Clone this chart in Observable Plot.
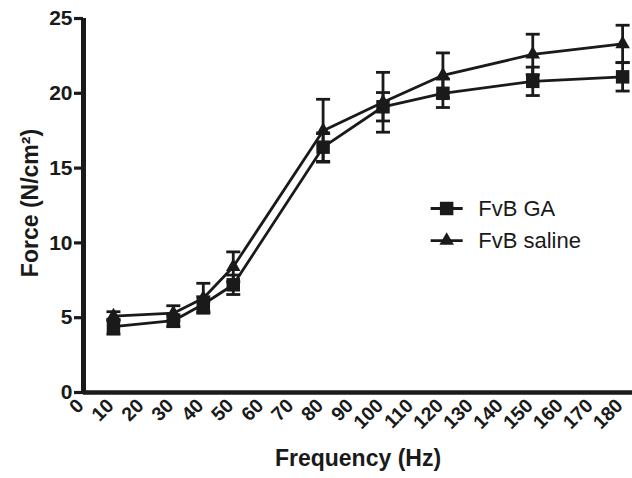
<!DOCTYPE html>
<html>
<head>
<meta charset="utf-8">
<script src="https://cdn.jsdelivr.net/npm/d3@7"></script>
<script src="https://cdn.jsdelivr.net/npm/@observablehq/plot@0.6"></script>
<style>
  html, body { margin: 0; padding: 0; background: #fff; }
  svg { font-family: "Liberation Sans", Arial, sans-serif; }
</style>
</head>
<body>
<div id="chart"></div>
<script>
const frequencies = [10, 30, 40, 50, 80, 100, 120, 150, 180];
const gaMean   = [4.4, 4.8, 5.9, 7.2, 16.4, 19.1, 20.0, 20.8, 21.1];
const gaErr    = [0.5, 0.4, 0.5, 0.65, 0.95, 0.95, 0.95, 0.95, 0.95];
const salMean  = [5.1, 5.3, 6.3, 8.4, 17.5, 19.4, 21.2, 22.6, 23.3];
const salErr   = [0.3, 0.5, 1.0, 1.0, 2.1, 2.0, 1.5, 1.35, 1.25];
const seriesNames = ["FvB GA", "FvB saline"];
const xTicks = d3.range(0, 181, 10);
const yTicks = [0, 5, 10, 15, 20, 25];
// legend placement in data units
const legendX = [115.9, 126.6];
const legendLabelX = 131.8;
const legendY = [12.3, 10.15];

const ink = "#1a1a1a";
const data = [];
frequencies.forEach((f, i) => {
  data.push({series: seriesNames[0], f, m: gaMean[i], e: gaErr[i]});
  data.push({series: seriesNames[1], f, m: salMean[i], e: salErr[i]});
});
const caps = data.flatMap(d => [{...d, v: d.m - d.e}, {...d, v: d.m + d.e}]);
const legend = seriesNames.map((s, i) => ({series: s, x1: legendX[0], x2: legendX[1], xm: (legendX[0] + legendX[1]) / 2, y: legendY[i], lx: legendLabelX}));

const capSymbol = {
  draw(ctx, size) { const r = 7; ctx.moveTo(-r, 0); ctx.lineTo(r, 0); }
};
const isGA = d => d.series === seriesNames[0];

const chart = Plot.plot({
  width: 632,
  height: 478,
  marginLeft: 83,
  marginRight: 0,
  marginTop: 18,
  marginBottom: 86,
  style: {fontFamily: "'Liberation Sans', Arial, sans-serif", color: ink, background: "white"},
  x: {domain: [0, 183.3]},
  y: {domain: [0, 25]},
  marks: [
    Plot.axisY({ticks: yTicks, tickSize: 9, tickPadding: 2, strokeWidth: 3.2, fontSize: 21, fontWeight: "bold", label: null, stroke: ink, fill: ink}),
    Plot.axisX({ticks: xTicks, tickSize: 0, tickPadding: 10, tickRotate: -45, dx: -3, fontSize: 19.5, fontWeight: "bold", label: null, fill: ink}),
    Plot.ruleX([0], {y1: 0, y2: 25, stroke: ink, strokeWidth: 5}),
    Plot.ruleY([0], {stroke: ink, strokeWidth: 4.5}),
    Plot.line(data, {x: "f", y: "m", z: "series", stroke: ink, strokeWidth: 2.8}),
    Plot.ruleX(data, {x: "f", y1: d => d.m - d.e, y2: d => d.m + d.e, stroke: ink, strokeWidth: 2.8}),
    Plot.dot(caps, {x: "f", y: "v", symbol: () => capSymbol, stroke: ink, strokeWidth: 2.8, r: 5}),
    Plot.dot(data.filter(isGA), {x: "f", y: "m", symbol: "square", fill: ink, r: 7.6}),
    Plot.dot(data.filter(d => !isGA(d)), {x: "f", y: "m", symbol: "triangle", fill: ink, r: 5.4}),
    // legend
    Plot.link(legend, {x1: "x1", x2: "x2", y1: "y", y2: "y", stroke: ink, strokeWidth: 2.8}),
    Plot.dot(legend.filter(isGA), {x: "xm", y: "y", symbol: "square", fill: ink, r: 7.6}),
    Plot.dot(legend.filter(d => !isGA(d)), {x: "xm", y: "y", symbol: "triangle", fill: ink, r: 5.4}),
    Plot.text(legend, {x: "lx", y: "y", text: "series", textAnchor: "start", fontSize: 22, fill: ink}),
    // axis titles
    Plot.text(["Frequency (Hz)"], {frameAnchor: "bottom", dy: 73, text: d => d, fontSize: 23, fontWeight: "bold", fill: ink}),
    Plot.text(["Force (N/cm²)"], {frameAnchor: "left", textAnchor: "middle", dx: -53, dy: -2.5, rotate: -90, text: d => d, fontSize: 23, fontWeight: "bold", fill: ink})
  ]
});
document.getElementById("chart").appendChild(chart);
</script>
</body>
</html>
